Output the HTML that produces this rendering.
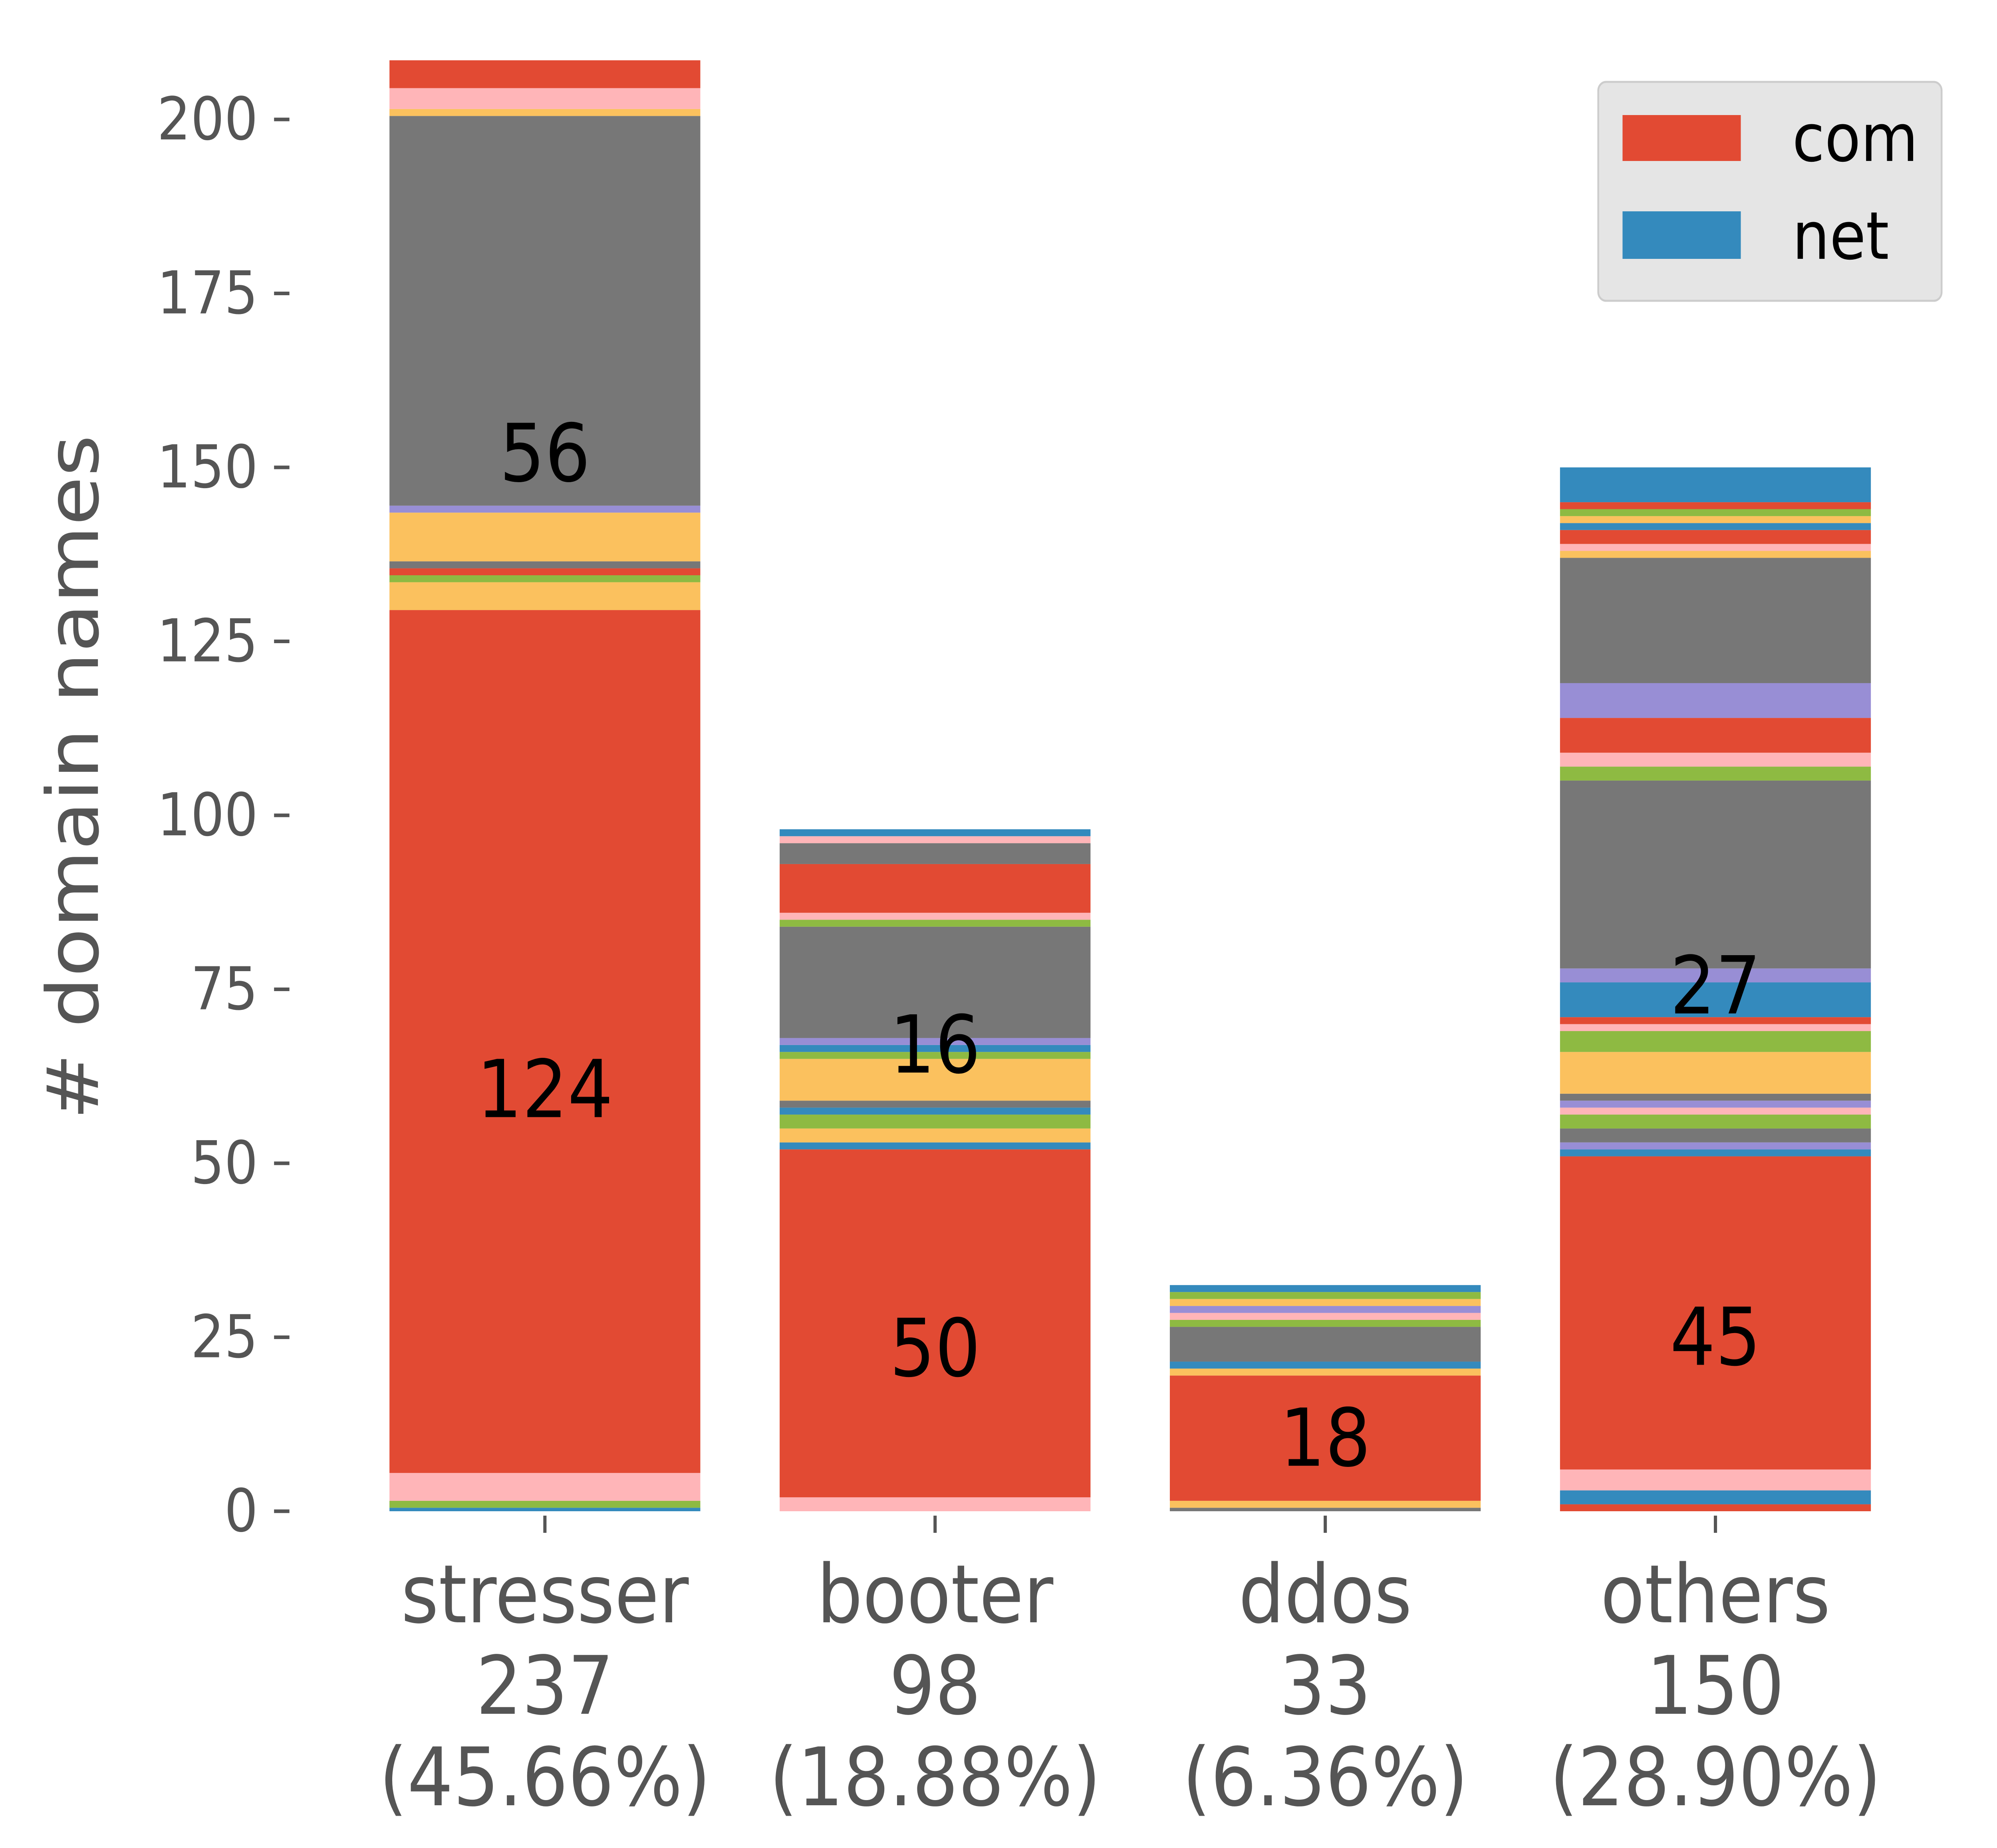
<!DOCTYPE html>
<html><head><meta charset="utf-8"><style>
html,body{margin:0;padding:0;background:#fff;overflow:hidden;width:100%;height:100%;}
svg{display:block;width:100vw;height:100vh;font-family:"DejaVu Sans","Liberation Sans",sans-serif;}
</style></head><body>
<svg id="chart" viewBox="0 0 5589 4626" preserveAspectRatio="none" xmlns="http://www.w3.org/2000/svg">
<g id="bars"></g>
<g id="axes"></g>
<text transform="translate(205,1946) rotate(-90)" text-anchor="middle" dominant-baseline="central" font-size="200" fill="#555">#&#160;domain names</text>
<g>
<rect x="4473" y="205" width="961" height="548" rx="22" fill="#E5E5E5" stroke="#cccccc" stroke-width="5"/>
<rect x="4541" y="288" width="331" height="115" fill="#E24A33"/>
<text x="5016" y="346" dominant-baseline="central" font-size="165" fill="#000">com</text>
<rect x="4541" y="529" width="331" height="119" fill="#348ABD"/>
<text x="5016" y="591" dominant-baseline="central" font-size="165" fill="#000">net</text>
</g>
</svg>
<script>
const categories = ["stresser","booter","ddos","others"];
const totals = ["237","98","33","150"];
const percents = ["(45.66%)","(18.88%)","(6.36%)","(28.90%)"];
const R="#E24A33",B="#348ABD",P="#988ED5",G="#777777",Y="#FBC15E",N="#8EBA42",K="#FFB5B8";
const stresserValues = [0.5,1,4,124,4,1,1,1,7,1,56,1,3,4];
const stresserColors = [B,N,K,R,Y,N,R,G,Y,P,G,Y,K,R];
const booterValues = [2,50,1,2,2,1,1,6,1,1,1,16,1,1,7,3,1,1];
const booterColors = [K,R,B,Y,N,B,G,Y,N,B,P,G,N,K,R,G,K,B];
const ddosValues = [0.5,1,18,1,1,5,1,1,1,1,1,1];
const ddosColors = [G,Y,R,Y,B,G,N,K,P,Y,N,B];
const othersValues = [1,2,3,45,1,1,2,2,1,1,1,6,3,1,1,5,2,27,2,2,5,5,18,1,1,2,1,1,1,1,5];
const othersColors = [R,B,K,R,B,P,G,N,K,P,G,Y,N,K,R,B,P,G,N,K,R,P,G,Y,K,R,B,Y,N,R,B];
const labelTexts = ["124","56","50","16","18","27","45"];
const labelBar = [0,0,1,1,2,3,3];
const labelY = [60.6,152,23.4,67,10.5,75.5,25];
const yTicks = [0,25,50,75,100,125,150,175,200];

const NS="http://www.w3.org/2000/svg";
const Y0=3783, Y200=299;
function ys(v){return Y0+(Y200-Y0)*v/200;}
const barLeft0=1090, barW=870, step=1092;
function xs(i){return barLeft0+i*step;}
function mk(tag,attrs,parent){const e=document.createElementNS(NS,tag);for(const k in attrs)e.setAttribute(k,attrs[k]);parent.appendChild(e);return e;}
const bars=document.getElementById('bars'), axes=document.getElementById('axes');
const allV=[stresserValues,booterValues,ddosValues,othersValues];
const allC=[stresserColors,booterColors,ddosColors,othersColors];
allV.forEach((vals,i)=>{
  let cum=0;
  vals.forEach((v,j)=>{
    const r=mk('rect',{x:xs(i),y:ys(cum+v),width:barW,height:ys(cum)-ys(cum+v),fill:allC[i][j]},bars);
    
    
    cum+=v;
  });
});
labelTexts.forEach((t,k)=>{
  const e=mk('text',{x:xs(labelBar[k])+barW/2,y:ys(labelY[k]),'text-anchor':'middle','dominant-baseline':'central','font-size':200,fill:'#000'},bars);
  e.textContent=t;
  
  
});
yTicks.forEach(t=>{
  const l=mk('line',{x1:767,x2:810,y1:ys(t),y2:ys(t),stroke:'#555','stroke-width':9},axes);
  
  
  const e=mk('text',{x:722,y:ys(t),'text-anchor':'end','dominant-baseline':'central','font-size':148,fill:'#555'},axes);
  e.textContent=t;
  
  
});
categories.forEach((c,i)=>{
  const cx=xs(i)+barW/2;
  const l=mk('line',{x1:cx,x2:cx,y1:3794,y2:3837,stroke:'#555','stroke-width':9},axes);
  
  
  [c,totals[i],percents[i]].forEach((s,k)=>{
    const e=mk('text',{x:cx,y:3992+k*229,'text-anchor':'middle','dominant-baseline':'central','font-size':202,fill:'#555'},axes);
    e.textContent=s;
    
    
  });
});
</script>
</body></html>
